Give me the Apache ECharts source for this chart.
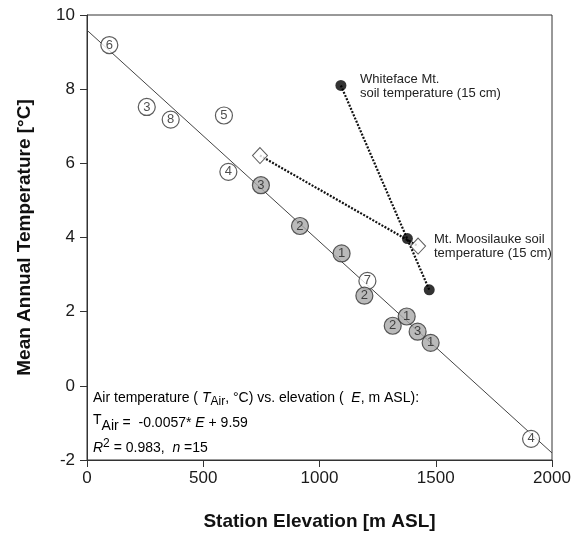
<!DOCTYPE html>
<html>
<head>
<meta charset="utf-8">
<script src="https://cdn.jsdelivr.net/npm/echarts@6/dist/echarts.min.js"></script>
<style>
html,body{margin:0;padding:0;background:#fff;}
#chart{width:574px;height:536px;}
</style>
</head>
<body>
<div id="chart"></div>
<script>
// Open (white) station circles
var openElev  = [96, 257, 360, 589, 608, 1206, 1910];
var openTemp  = [9.19, 7.52, 7.18, 7.29, 5.77, 2.83, -1.43];
var openLabel = ['6', '3', '8', '5', '4', '7', '4'];
// Gray (filled) station circles
var grayElev  = [748, 916, 1095, 1193, 1315, 1375, 1422, 1478];
var grayTemp  = [5.41, 4.31, 3.57, 2.43, 1.62, 1.87, 1.46, 1.16];
var grayLabel = ['3', '2', '1', '2', '2', '1', '3', '1'];
// Whiteface Mt. soil temperature (15 cm)
var wfElev = [1092, 1378, 1472];
var wfTemp = [8.10, 3.97, 2.59];
// Mt. Moosilauke soil temperature (15 cm)
var mlElev = [744, 1424];
var mlTemp = [6.21, 3.77];
// Regression line endpoints (T = -0.0057*E + 9.59)
var regElev = [0, 2000];
var regTemp = [9.59, -1.81];
// Axis ticks
var xTicks = [0, 500, 1000, 1500, 2000];
var yTicks = [-2, 0, 2, 4, 6, 8, 10];

function pairs(xs, ys, labels) {
  return xs.map(function (x, i) {
    var d = { value: [x, ys[i]] };
    if (labels) d.label = { formatter: labels[i] };
    return d;
  });
}

var FONT = 'Liberation Sans, Arial, sans-serif';
var chart = echarts.init(document.getElementById('chart'), null, { renderer: 'canvas' });

var txtBase = { fontFamily: FONT, fontSize: 14, color: '#222', lineHeight: 20, verticalAlign: 'middle' };
function st(extra) { return Object.assign({}, txtBase, extra || {}); }

chart.setOption({
  animation: false,
  backgroundColor: '#fff',
  grid: { left: 87, right: 22, top: 15, bottom: 75, show: true, borderColor: '#333', borderWidth: 1 },
  xAxis: {
    type: 'value', min: xTicks[0], max: xTicks[xTicks.length - 1], interval: 500,
    name: 'Station Elevation [m ASL]', nameLocation: 'middle', nameGap: 52,
    nameTextStyle: { fontFamily: FONT, fontSize: 19, fontWeight: 'bold', color: '#111' },
    axisLine: { show: true, onZero: false, lineStyle: { color: '#333', width: 1 } },
    axisTick: { show: true, inside: false, length: 7, lineStyle: { color: '#333' } },
    axisLabel: { fontFamily: FONT, fontSize: 17, color: '#1a1a1a', margin: 10, formatter: function (v) { return String(v); } },
    splitLine: { show: false }
  },
  yAxis: {
    type: 'value', min: yTicks[0], max: yTicks[yTicks.length - 1], interval: 2,
    name: 'Mean Annual Temperature [°C]', nameLocation: 'middle', nameGap: 53,
    nameTextStyle: { fontFamily: FONT, fontSize: 19, fontWeight: 'bold', color: '#111' },
    axisLine: { show: true, onZero: false, lineStyle: { color: '#333', width: 1 } },
    axisTick: { show: true, inside: false, length: 7, lineStyle: { color: '#333' } },
    axisLabel: { fontFamily: FONT, fontSize: 17, color: '#1a1a1a', margin: 12, formatter: function (v) { return String(v); } },
    splitLine: { show: false }
  },
  series: [
    {
      type: 'line', data: pairs(regElev, regTemp), symbol: 'none', silent: true,
      lineStyle: { color: '#444', width: 1 }, z: 1
    },
    {
      type: 'line', data: pairs(mlElev, mlTemp), symbol: 'none', silent: true,
      lineStyle: { color: '#111', width: 2.2, type: [2, 1.5] }, z: 2
    },
    {
      type: 'line', data: pairs([wfElev[0], wfElev[2]], [wfTemp[0], wfTemp[2]]), symbol: 'none', silent: true,
      lineStyle: { color: '#111', width: 2.2, type: [2, 1.5] }, z: 2
    },
    {
      type: 'scatter', data: pairs(openElev, openTemp, openLabel), symbol: 'circle', symbolSize: 17,
      itemStyle: { color: '#fff', borderColor: '#333', borderWidth: 1.2 },
      label: { show: true, position: 'inside', fontFamily: FONT, fontSize: 13, color: '#222' }, z: 3
    },
    {
      type: 'scatter', data: pairs(grayElev, grayTemp, grayLabel), symbol: 'circle', symbolSize: 17,
      itemStyle: { color: '#a9a9a9', borderColor: '#333', borderWidth: 1.2 },
      label: { show: true, position: 'inside', fontFamily: FONT, fontSize: 13, color: '#222' }, z: 4
    },
    {
      type: 'scatter', data: pairs(mlElev, mlTemp), symbol: 'diamond', symbolSize: [15, 16],
      itemStyle: { color: '#fff', borderColor: '#333', borderWidth: 1 }, z: 5
    },
    {
      type: 'scatter', data: pairs(wfElev, wfTemp), symbol: 'circle', symbolSize: 11,
      itemStyle: { color: '#000', borderColor: '#000', borderWidth: 0 }, z: 6
    }
  ],
  graphic: [
    {
      type: 'text', left: 360, top: 72, z: 10,
      style: { text: 'Whiteface Mt.\nsoil temperature (15 cm)', font: '13px ' + FONT, fill: '#222', lineHeight: 14 }
    },
    {
      type: 'text', left: 434, top: 232, z: 10,
      style: { text: 'Mt. Moosilauke soil\ntemperature (15 cm)', font: '13px ' + FONT, fill: '#222', lineHeight: 14 }
    },
    {
      type: 'text', left: 93, top: 391, z: 10,
      style: {
        text: '{a|Air temperature ( }{it|T}{sub|Air}{a|, °C) vs. elevation (  }{it|E}{a|, m ASL):}',
        rich: {
          a: st(), it: st({ fontStyle: 'italic' }),
          sub: st({ fontSize: 12, verticalAlign: 'bottom', lineHeight: 14 })
        }
      }
    },
    {
      type: 'text', left: 93, top: 413, z: 10,
      style: {
        text: '{t|T}{sub|Air}{a| =  -0.0057* }{it|E}{a| + 9.59}',
        rich: {
          t: st({ fontSize: 14, verticalAlign: 'top', lineHeight: 17 }),
          a: st(), it: st({ fontStyle: 'italic' }),
          sub: st({ fontSize: 14, verticalAlign: 'bottom', lineHeight: 17 })
        }
      }
    },
    {
      type: 'text', left: 93, top: 438, z: 10,
      style: {
        text: '{it|R}{sup|2}{a| = 0.983,  }{it|n}{a| =15}',
        rich: {
          a: st(), it: st({ fontStyle: 'italic' }),
          sup: st({ fontSize: 12, verticalAlign: 'top', lineHeight: 14 })
        }
      }
    }
  ]
});
</script>
</body>
</html>
